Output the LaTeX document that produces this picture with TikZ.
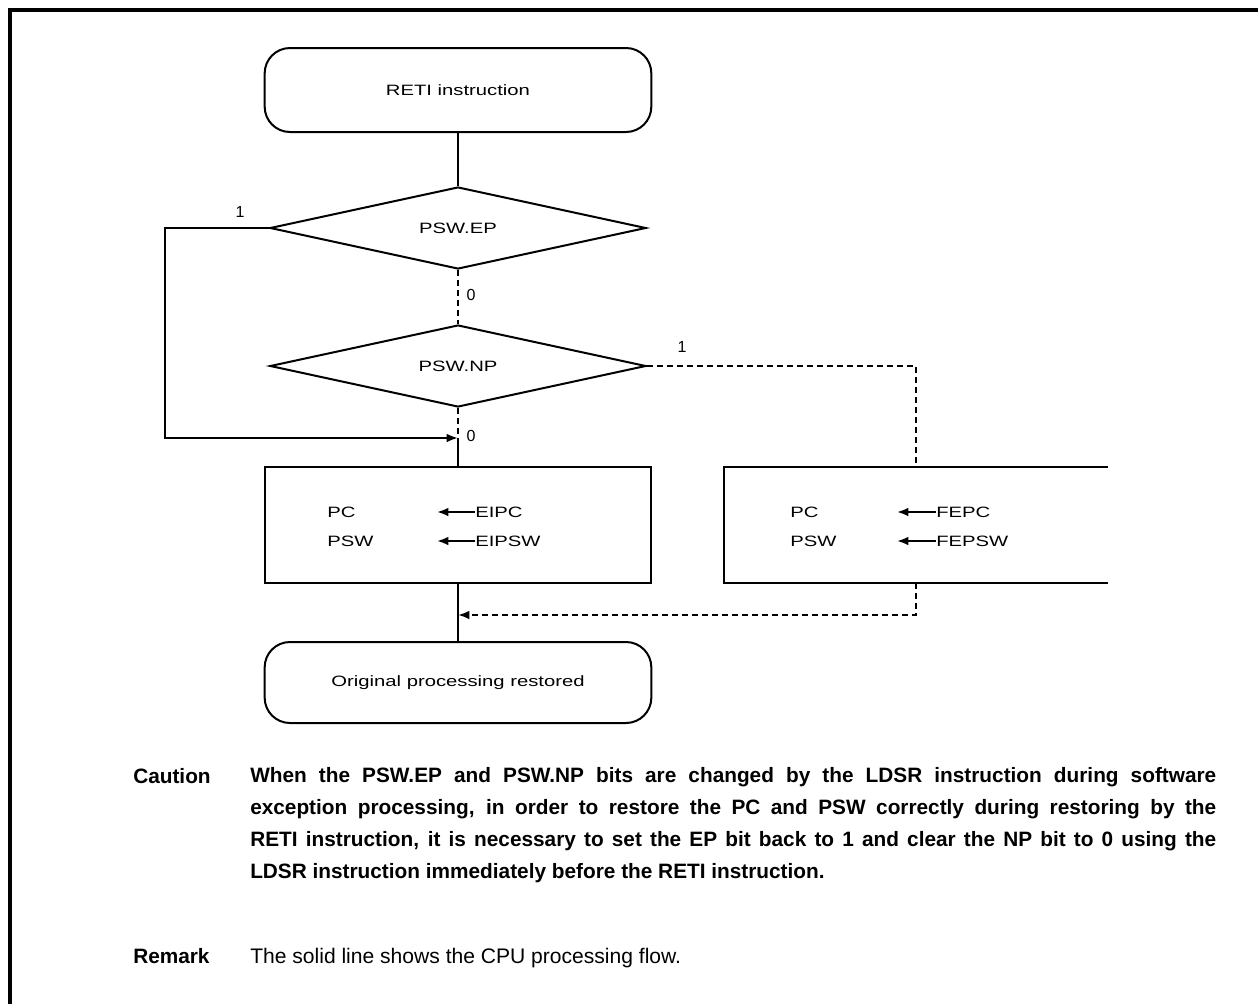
\documentclass[tikz,border=0pt]{standalone}
\usepackage{fontspec}
\setmainfont{Liberation Sans}
\newfontfamily\diagfont[FakeStretch=1.35]{Liberation Sans}
\usetikzlibrary{shapes.geometric,arrows.meta}
\begin{document}
\begin{tikzpicture}[x=0.75pt,y=-0.75pt,
  ln/.style={line width=1.5pt},
  dsh/.style={ln,dash pattern=on 4.5pt off 3pt},
  arr/.style={-{Latex[length=8.5pt,width=6.5pt]}},
  dfont/.style={font=\diagfont\fontsize{11.25}{13}\selectfont},
  term/.style={draw,ln,rounded corners=19pt,minimum width=290pt,inner sep=0,dfont},
  dec/.style={draw,ln,diamond,aspect=4.6,minimum width=282pt,minimum height=61.5pt,inner sep=0,dfont},
  procbox/.style={minimum width=289.5pt,minimum height=87pt,inner sep=0},
  dtxt/.style={dfont,inner sep=0},
  lbl/.style={font=\fontsize{12}{14}\selectfont,inner sep=0},
  body/.style={inner sep=0,font=\fontsize{15.8}{24}\selectfont},
  bbody/.style={inner sep=0,font=\bfseries\fontsize{15.6}{24}\selectfont}
]
\useasboundingbox (0,0) rectangle (1258,1004);
\draw[line width=2.4pt] (10,1004) -- (10,10) -- (1258,10);

% nodes
\node[term,minimum height=63pt] (start) at (458,90) {RETI instruction};
\node[dec] (d1) at (458,228) {PSW.EP};
\node[dec] (d2) at (458,366) {PSW.NP};
\node[procbox,draw,ln] (b1) at (458,525) {};
\node[procbox,minimum width=288pt] (b2) at (916,525) {};
\draw[ln] (b2.north east) -- (b2.north west) -- (b2.south west) -- (b2.south east);
\node[term,minimum height=60.75pt] (end) at (458,682.5) {Original processing restored};

% box contents
\node[dtxt,anchor=west] (pc1) at (327,512) {PC};
\node[dtxt,anchor=west] (psw1) at (327,541) {PSW};
\node[dtxt,anchor=west] (eipc) at (475,512) {EIPC};
\node[dtxt,anchor=west] (eipsw) at (475,541) {EIPSW};
\coordinate (a1) at (437,512);
\coordinate (a2) at (437,541);
\draw[ln,arr] (eipc.west) -- (a1);
\draw[ln,arr] (eipsw.west) -- (a2);

\node[dtxt,anchor=west] (pc2) at (790,512) {PC};
\node[dtxt,anchor=west] (psw2) at (790,541) {PSW};
\node[dtxt,anchor=west] (fepc) at (936,512) {FEPC};
\node[dtxt,anchor=west] (fepsw) at (936,541) {FEPSW};
\coordinate (a3) at (897,512);
\coordinate (a4) at (897,541);
\draw[ln,arr] (fepc.west) -- (a3);
\draw[ln,arr] (fepsw.west) -- (a4);

% connectors
\coordinate (j1) at (458,438);
\coordinate (l1) at (165,228);
\coordinate (r1) at (916,366);
\coordinate (j2) at (458,615);
\draw[ln] (start.south) -- (d1.north);
\draw[ln,arr] (d1.west) -- (l1) |- (j1);
\draw[dsh] (d1.south) -- (d2.north);
\draw[dsh] (d2.south) -- (j1);
\draw[ln] (j1) -- (b1.north);
\draw[dsh] (d2.east) -- (r1) -- (b2.north);
\draw[ln] (b1.south) -- (end.north);
\draw[dsh,arr] (b2.south) |- (j2);

% labels
\node[lbl] (one1) at (240,212) {1};
\node[lbl] (zero1) at (471,295) {0};
\node[lbl] (one2) at (682,347) {1};
\node[lbl] (zero2) at (471,436) {0};

% notes
\node[bbody,anchor=base west] (cl) at (133,783) {Caution};
\node[bbody,anchor=north west,text width=724.5pt,align=justify] (ct) at (250,767)
{When the PSW.EP and PSW.NP bits are changed by the LDSR instruction during software\linebreak
exception processing, in order to restore the PC and PSW correctly during restoring by the\linebreak
RETI instruction, it is necessary to set the EP bit back to 1 and clear the NP bit to 0 using the\linebreak
LDSR instruction immediately before the RETI instruction.};
\node[bbody,anchor=base west] (rl) at (133,963) {Remark};
\node[body,anchor=base west] (rt) at (250,963) {The solid line shows the CPU processing flow.};
\end{tikzpicture}
\end{document}
